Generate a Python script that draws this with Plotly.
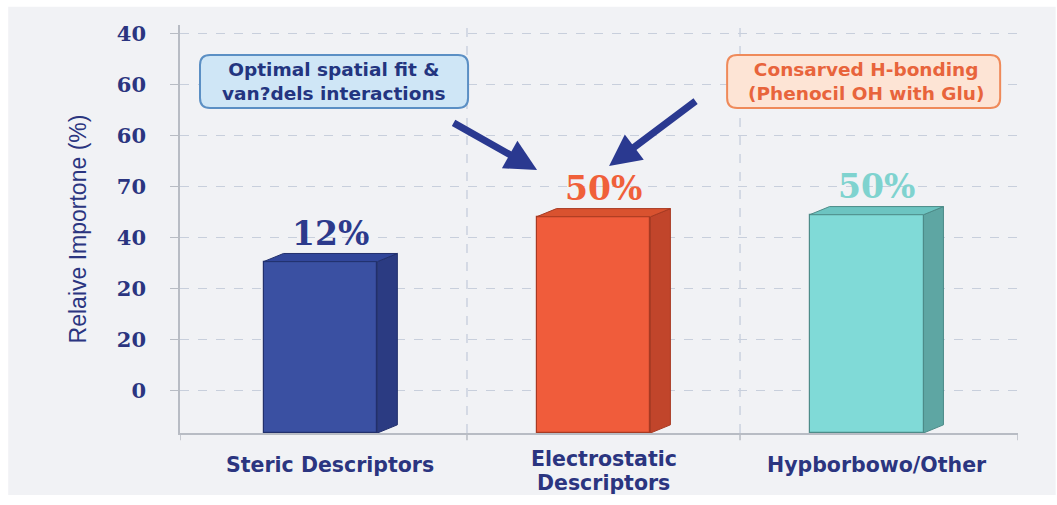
import plotly.graph_objects as go

# ---------------- data ----------------
categories = ["Steric Descriptors", "Electrostatic<br>Descriptors", "Hypborbowo/Other"]
bar_heights = [33.6, 42.4, 42.8]          # bar heights in axis units (axis starts at 0 = baseline)
value_labels = ["12%", "50%", "50%"]
tick_positions = [8.4, 18.4, 28.4, 38.4, 48.4, 58.4, 68.4, 78.4]
tick_labels = ["0", "20", "20", "40", "70", "60", "60", "40"]

# ---------------- styles ----------------
front_colors = ["#3a50a2", "#f05c3b", "#80dad7"]
side_colors = ["#2b3b82", "#c1452b", "#5ea6a3"]
top_colors = ["#31469a", "#d9522f", "#6cc4c1"]
edge_colors = ["#22306c", "#a83a22", "#4d8c89"]
label_colors = ["#2c3a8c", "#f0603a", "#7fd3cf"]
navy = "#2b3580"

X0, X1 = -0.551, 2.518
Y0, Y1 = 0, 80
PX_X = 273.0   # px per x unit
PX_Y = 5.1     # px per y unit

front_off = -0.245
front_w = 0.417
depth_x = 0.073
depth_y = 1.6


def b(t):
    return "<b>" + t.replace("<br>", "</b><br><b>") + "</b>"


fig = go.Figure()

fig.add_trace(go.Bar(
    x=list(range(len(categories))), y=bar_heights, base=0,
    width=front_w, offset=front_off,
    marker=dict(color=front_colors, line=dict(color=edge_colors, width=1.2)),
    hoverinfo="skip", showlegend=False,
))

for i, v in enumerate(bar_heights):
    xr = i + front_off + front_w
    xl = i + front_off
    fig.add_trace(go.Scatter(
        x=[xr, xr + depth_x, xr + depth_x, xr, xr],
        y=[0, depth_y, v + depth_y, v, 0],
        fill="toself", fillcolor=side_colors[i], mode="lines",
        line=dict(color=edge_colors[i], width=1), hoverinfo="skip", showlegend=False,
    ))
    fig.add_trace(go.Scatter(
        x=[xl, xr, xr + depth_x, xl + depth_x, xl],
        y=[v, v, v + depth_y, v + depth_y, v],
        fill="toself", fillcolor=top_colors[i], mode="lines",
        line=dict(color=edge_colors[i], width=1), hoverinfo="skip", showlegend=False,
    ))

annotations = []
for i, v in enumerate(bar_heights):
    annotations.append(dict(
        x=i, y=v, xref="x", yref="y", text=b(value_labels[i]), showarrow=False,
        yshift=28, font=dict(family="DejaVu Serif", size=33, color=label_colors[i]),
    ))

# category labels (one annotation per line)
for i, c in enumerate(categories):
    lines = c.split("<br>")
    first_shift = -32 if len(lines) == 1 else -26
    for j, ln in enumerate(lines):
        annotations.append(dict(
            x=i, y=0, xref="x", yref="paper", text=b(ln), showarrow=False,
            yanchor="middle", yshift=first_shift - 24 * j,
            font=dict(family="DejaVu Sans", size=20.5, color=navy),
        ))


def px2x(px):
    return X0 + (px - 180) / PX_X


def py2y(py):
    return (433 - py) / PX_Y


def rounded_box(px0, py0, px1, py1, r=10):
    rx, ry = r / PX_X, r / PX_Y
    x0, x1 = px2x(px0), px2x(px1)
    yt, yb = py2y(py0), py2y(py1)
    return (f"M {x0+rx},{yt} L {x1-rx},{yt} Q {x1},{yt} {x1},{yt-ry} "
            f"L {x1},{yb+ry} Q {x1},{yb} {x1-rx},{yb} L {x0+rx},{yb} "
            f"Q {x0},{yb} {x0},{yb+ry} L {x0},{yt-ry} Q {x0},{yt} {x0+rx},{yt} Z")


shapes = []
shapes.append(dict(type="rect", xref="paper", yref="paper",
                   x0=-0.205, x1=1.045, y0=-0.152, y1=1.045,
                   fillcolor="#f1f2f5", line=dict(width=0), layer="below"))
for xd in [0.5, 1.5]:
    shapes.append(dict(type="line", xref="x", yref="paper", x0=xd, x1=xd, y0=0, y1=1,
                       line=dict(color="#c5cddc", width=1.3, dash="dash"), layer="below"))
for xd in [X0, 0.5, 1.5, X1]:
    shapes.append(dict(type="line", xref="x", yref="paper", x0=xd, x1=xd, y0=0, y1=-0.018,
                       line=dict(color="#b8bcc4", width=1.5)))

shapes.append(dict(type="path", path=rounded_box(200, 55, 468, 108), xref="x", yref="y",
                   fillcolor="#cfe6f6", line=dict(color="#5b8fc4", width=2)))
shapes.append(dict(type="path", path=rounded_box(727, 55, 1000, 108), xref="x", yref="y",
                   fillcolor="#fde4d5", line=dict(color="#ef8a5a", width=2)))

annotations.append(dict(x=px2x(334), y=py2y(81.5), xref="x", yref="y", showarrow=False,
                        text=b("Optimal spatial fit &<br>van?dels interactions"),
                        font=dict(family="DejaVu Sans", size=18.5, color="#233580")))
annotations.append(dict(x=px2x(866), y=py2y(81.5), xref="x", yref="y", showarrow=False,
                        text=b("Consarved H-bonding<br>(Phenocil OH with Glu)"),
                        font=dict(family="DejaVu Sans", size=18.5, color="#e8643c")))

annotations.append(dict(x=px2x(537), y=py2y(170), xref="x", yref="y", ax=-85, ay=-48,
                        showarrow=True, arrowhead=2, arrowsize=0.9, arrowwidth=7,
                        arrowcolor="#2a3990", text=""))
annotations.append(dict(x=px2x(609), y=py2y(166), xref="x", yref="y", ax=88, ay=-66,
                        showarrow=True, arrowhead=2, arrowsize=0.9, arrowwidth=7,
                        arrowcolor="#2a3990", text=""))

fig.update_layout(
    width=1057, height=505,
    margin=dict(l=180, r=39, t=25, b=72),
    paper_bgcolor="#ffffff",
    plot_bgcolor="rgba(248,249,251,0.6)",
    shapes=shapes, annotations=annotations,
    showlegend=False, bargap=0,
    xaxis=dict(range=[X0, X1], showticklabels=False, automargin=False,
               showgrid=False, zeroline=False, showline=True, linecolor="#b8bcc4", linewidth=1.5),
    yaxis=dict(range=[Y0, Y1], tickvals=tick_positions, ticktext=[b(t) for t in tick_labels],
               automargin=False,
               showgrid=True, gridcolor="#c8cfdc", griddash="dash", gridwidth=1.2,
               zeroline=False, showline=True, linecolor="#b8bcc4", linewidth=1.5,
               ticks="outside", ticklen=8, tickcolor="#b8bcc4", ticklabelstandoff=20,
               tickfont=dict(family="DejaVu Serif", size=21, color=navy),
               title=dict(text="Relaive Importone (%)", standoff=24,
                          font=dict(family="Liberation Sans", size=23, color=navy))),
)

fig.write_html("out.html")
